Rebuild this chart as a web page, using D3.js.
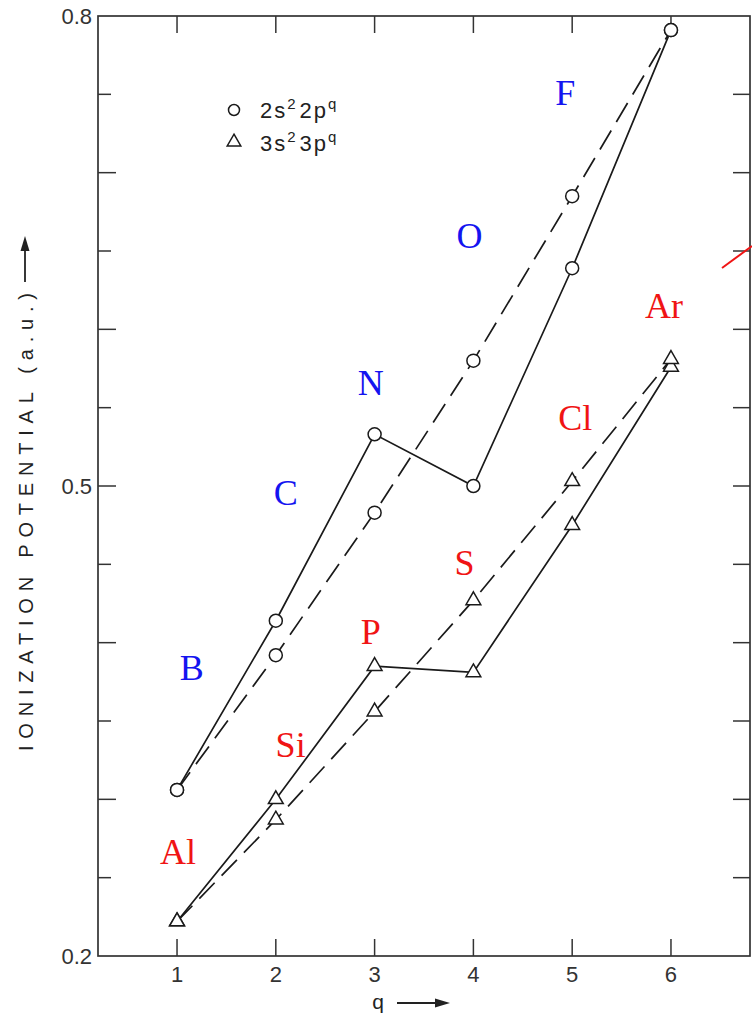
<!DOCTYPE html>
<html lang="en">
<head>
  <meta charset="UTF-8">
  <title>Ionization potential vs q</title>
  <script src="https://d3js.org/d3.v7.min.js"></script>
  <style>
    body { margin: 0; background: #fff; }
    .frame { fill: none; stroke: #333; stroke-width: 1.7; }
    .tick-mark { stroke: #333; stroke-width: 1.5; }
    .tick-label { font-family: "Liberation Sans", Arial, sans-serif; font-size: 22px; fill: #333; }
    .axis-title { font-family: "Liberation Sans", Arial, sans-serif; font-size: 20px; fill: #222; }
    .series { fill: none; stroke: #1a1a1a; stroke-width: 1.7; }
    .dashed { stroke-dasharray: 22 10; }
    .marker { fill: #fff; stroke: #1a1a1a; stroke-width: 1.5; }
    .elem { font-family: "Liberation Serif", "Times New Roman", serif; font-size: 36px; text-anchor: middle; }
    .legend { font-family: "Liberation Sans", Arial, sans-serif; font-size: 22px; fill: #222; letter-spacing: 2px; }
  </style>
</head>
<body>
  <div id="chart"></div>
  <script>
    // q values and ionization potentials (a.u.)
    const q = [1, 2, 3, 4, 5, 6];
    const row2Solid  = [0.306, 0.414, 0.533, 0.500, 0.639, 0.791];
    const row2Dashed = [0.306, 0.392, 0.483, 0.580, 0.685, 0.791];
    const row3Solid  = [0.222, 0.300, 0.385, 0.381, 0.475, 0.576];
    const row3Dashed = [0.222, 0.287, 0.356, 0.427, 0.503, 0.581];

    const yTickLabels = [0.2, 0.5, 0.8];
    const yMinorTicks = d3.range(0.25, 0.8, 0.05);

    // element names placed in data coordinates (q, potential)
    const row2Names = ["B", "C", "N", "O", "F"];
    const row2NamePos = [[1.15, 0.376], [2.10, 0.488], [2.96, 0.558], [3.96, 0.652], [4.93, 0.743]];
    const row3Names = ["Al", "Si", "P", "S", "Cl", "Ar"];
    const row3NamePos = [[1.01, 0.259], [2.15, 0.327], [2.96, 0.399], [3.91, 0.443], [5.03, 0.536], [5.93, 0.607]];

    const W = 752, H = 1017;
    const pL = 98, pR = 750, pT = 16, pB = 956;

    const svg = d3.select("#chart").append("svg")
      .attr("width", W).attr("height", H);

    const x = d3.scaleLinear().domain([0.2, 6.8]).range([pL, pR]);
    const y = d3.scaleLinear().domain([0.2, 0.8]).range([pB, pT]);

    // frame
    svg.append("rect").attr("class", "frame")
      .attr("x", pL).attr("y", pT)
      .attr("width", pR - pL).attr("height", pB - pT);

    // x ticks, top and bottom
    q.forEach(v => {
      svg.append("line").attr("class", "tick-mark")
        .attr("x1", x(v)).attr("x2", x(v)).attr("y1", pB).attr("y2", pB - 17);
      svg.append("line").attr("class", "tick-mark")
        .attr("x1", x(v)).attr("x2", x(v)).attr("y1", pT).attr("y2", pT + 17);
      svg.append("text").attr("class", "tick-label")
        .attr("x", x(v)).attr("y", pB + 26)
        .attr("text-anchor", "middle").text(v);
    });

    // y ticks, left and right
    yMinorTicks.forEach(v => {
      const major = Math.abs(v * 10 - Math.round(v * 10)) < 1e-6;
      const len = major ? 18 : 13;
      svg.append("line").attr("class", "tick-mark")
        .attr("x1", pL).attr("x2", pL + len).attr("y1", y(v)).attr("y2", y(v));
      svg.append("line").attr("class", "tick-mark")
        .attr("x1", pR).attr("x2", pR - 17).attr("y1", y(v)).attr("y2", y(v));
    });
    yTickLabels.forEach(v => {
      svg.append("text").attr("class", "tick-label")
        .attr("x", pL - 6).attr("y", y(v) + 8)
        .attr("text-anchor", "end").text(v.toFixed(1));
    });

    // axis titles
    svg.append("text").attr("class", "axis-title")
      .attr("transform", "rotate(-90)")
      .attr("x", -751).attr("y", 33)
      .attr("textLength", 458).attr("lengthAdjust", "spacing")
      .text("IONIZATION POTENTIAL (a.u.)");
    svg.append("line").attr("stroke", "#222").attr("stroke-width", 1.8)
      .attr("x1", 25).attr("x2", 25).attr("y1", 282).attr("y2", 246);
    svg.append("path").attr("fill", "#222")
      .attr("d", "M25,236 L20.5,251 L29.5,251 Z");

    svg.append("text").attr("class", "axis-title")
      .attr("x", 378).attr("y", 1009).attr("text-anchor", "middle")
      .style("font-size", "21px").text("q");
    svg.append("line").attr("stroke", "#222").attr("stroke-width", 1.8)
      .attr("x1", 397).attr("x2", 438).attr("y1", 1003).attr("y2", 1003);
    svg.append("path").attr("fill", "#222")
      .attr("d", "M450,1003 L435,998.5 L435,1007.5 Z");

    // series lines
    const line = d3.line().x((d, i) => x(q[i])).y(d => y(d));
    const allSeries = [
      { vals: row2Solid, dash: false, shape: "circle" },
      { vals: row2Dashed, dash: true, shape: "circle" },
      { vals: row3Solid, dash: false, shape: "triangle" },
      { vals: row3Dashed, dash: true, shape: "triangle" }
    ];

    allSeries.forEach(s => {
      svg.append("path").datum(s.vals)
        .attr("class", "series" + (s.dash ? " dashed" : ""))
        .attr("d", line);
    });

    const tri = d3.symbol().type(d3.symbolTriangle).size(95);
    allSeries.forEach(s => {
      const g = svg.append("g");
      if (s.shape === "circle") {
        g.selectAll("circle").data(s.vals).enter().append("circle")
          .attr("class", "marker")
          .attr("cx", (d, i) => x(q[i])).attr("cy", d => y(d)).attr("r", 6.5);
      } else {
        g.selectAll("path").data(s.vals).enter().append("path")
          .attr("class", "marker")
          .attr("transform", (d, i) => `translate(${x(q[i])},${y(d)})`)
          .attr("d", tri);
      }
    });

    // legend
    const leg = svg.append("g").attr("transform", "translate(234,110)");
    leg.append("circle").attr("class", "marker").attr("cx", 0).attr("cy", 0).attr("r", 5.5);
    leg.append("path").attr("class", "marker")
      .attr("transform", "translate(0,32)")
      .attr("d", d3.symbol().type(d3.symbolTriangle).size(80));
    const leg1 = leg.append("text").attr("class", "legend").attr("x", 26).attr("y", 8);
    leg1.append("tspan").text("2s");
    leg1.append("tspan").attr("dy", -9).attr("font-size", 15).text("2");
    leg1.append("tspan").attr("dy", 9).attr("dx", 2).text("2p");
    leg1.append("tspan").attr("dy", -9).attr("font-size", 15).text("q");
    const leg2 = leg.append("text").attr("class", "legend").attr("x", 26).attr("y", 41);
    leg2.append("tspan").text("3s");
    leg2.append("tspan").attr("dy", -9).attr("font-size", 15).text("2");
    leg2.append("tspan").attr("dy", 9).attr("dx", 2).text("3p");
    leg2.append("tspan").attr("dy", -9).attr("font-size", 15).text("q");

    // element names
    svg.selectAll(".elem2").data(row2Names).enter().append("text")
      .attr("class", "elem").attr("fill", "#1414f0")
      .attr("x", (d, i) => x(row2NamePos[i][0]))
      .attr("y", (d, i) => y(row2NamePos[i][1]))
      .text(d => d);
    svg.selectAll(".elem3").data(row3Names).enter().append("text")
      .attr("class", "elem").attr("fill", "#f01414")
      .attr("x", (d, i) => x(row3NamePos[i][0]))
      .attr("y", (d, i) => y(row3NamePos[i][1]))
      .text(d => d);

    // red pointer stroke at the right edge
    svg.append("line").attr("stroke", "#f01414").attr("stroke-width", 2)
      .attr("x1", 722).attr("y1", 268).attr("x2", 752).attr("y2", 246);
  </script>
</body>
</html>
